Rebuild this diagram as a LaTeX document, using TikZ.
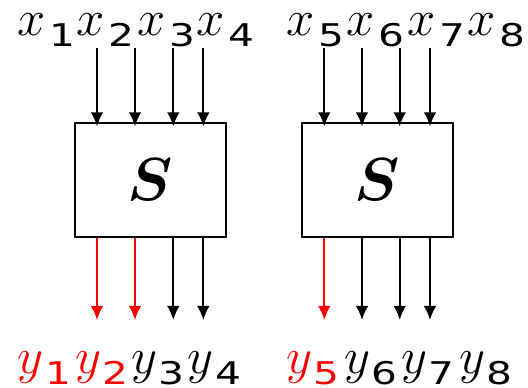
\documentclass[tikz,border=0pt]{standalone}
\usepackage{amsmath}
\usepackage{graphicx}
\usepackage{fontspec}
\usetikzlibrary{arrows.meta}
\newfontfamily\digfont{DejaVu Sans}
\newcommand{\ix}[2][1.1pt]{\kern#1\raisebox{-3.2pt}{\scalebox{1.3}[1]{\fontsize{8.9}{10}\digfont #2}}}
\tikzset{
  sbox/.style={draw,line width=0.6pt,inner sep=0pt,minimum width=1.51cm,minimum height=1.134cm,
    font=\fontsize{16.5}{20}\selectfont},
  lbl/.style={inner sep=0pt,anchor=base west,font=\fontsize{14}{16}\selectfont},
  olbl/.style={lbl,font=\fontsize{15.5}{18}\selectfont}
}

\begin{document}
\begin{tikzpicture}[x=0.01cm,y=-0.01cm,line width=0.6pt,>={Latex[length=4pt,width=3.6pt]}]
  \useasboundingbox (0,0) rectangle (528,387);
  \node[sbox] (s1) at (150.2,180) {$\boldsymbol{S}$};
  \node[sbox] (s2) at (377.3,180) {$\boldsymbol{S}$};
  % inputs
  \foreach \i/\px/\lx in {1/97/16.7,2/135/75.7,3/173.3/136.7,4/203.3/195.7}{
    \node[lbl] (x\i) at (\lx,35) {$x$\ix{\i}};
    \coordinate (a\i) at (\px,48);
    \draw[->] (a\i) -- ([yshift=-1.2pt]a\i |- s1.north);
  }
  \foreach \i/\px/\lx in {5/324.3/285.4,6/362/345.7,7/399.7/406.7,8/430/466.7}{
    \node[lbl] (x\i) at (\lx,35) {$x$\ix{\i}};
    \coordinate (a\i) at (\px,48);
    \draw[->] (a\i) -- ([yshift=-1.2pt]a\i |- s2.north);
  }
  % outputs
  \foreach \i/\px/\lx/\c in {1/97/16.7/red,2/135/74.4/red,3/173.3/130.1/black,4/203.3/186.7/black}{
    \node[olbl,text=\c] (y\i) at (\lx,373) {$y$\ix[0.4pt]{\i}};
    \coordinate (b\i) at (\px,320);
    \draw[->,\c] (s1.south -| b\i) -- (b\i);
  }
  \foreach \i/\px/\lx/\c in {5/324.3/285.4/red,6/362/343.4/black,7/399.7/400.4/black,8/430/458.4/black}{
    \node[olbl,text=\c] (y\i) at (\lx,373) {$y$\ix[0.4pt]{\i}};
    \coordinate (b\i) at (\px,320);
    \draw[->,\c] (s2.south -| b\i) -- (b\i);
  }
\end{tikzpicture}
\end{document}
